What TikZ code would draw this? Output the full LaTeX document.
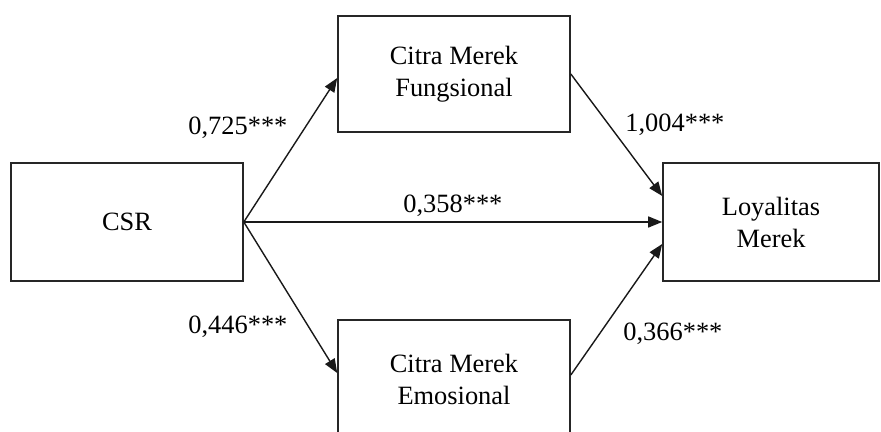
\documentclass[tikz,border=0pt]{standalone}
\usepackage{fontspec}
\setmainfont{Liberation Serif}
\usepackage{tikz}
\usetikzlibrary{arrows.meta}
\tikzset{varbox/.style={draw=black!85, line width=0.8pt, fill=white, align=center, inner sep=0pt,
  font=\fontsize{13.2}{16}\selectfont}}
\tikzset{coef/.style={anchor=base west, inner sep=0pt, font=\fontsize{13.2}{16}\selectfont}}

\begin{document}
\begin{tikzpicture} [x=0.5pt, y=-0.5pt]
\useasboundingbox (0,0) rectangle (881,432);
\clip (0,0) rectangle (881,432);
\fill[white] (0,0) rectangle (881,432);
\node[varbox, minimum width=116pt, minimum height=59pt] (csr) at (127,222) {CSR};
\node[varbox, minimum width=116pt, minimum height=58pt] (fung) at (454,74) {Citra Merek\\Fungsional};
\node[varbox, minimum width=116pt, minimum height=59pt] (emos) at (454,379) {Citra Merek\\Emosional};
\node[varbox, minimum width=108pt, minimum height=59pt] (loy) at (771,222) {Loyalitas\\Merek};
\draw[black!90, line width=0.7pt, ->, >={Triangle[length=7pt,width=5.5pt]}] (csr.east) -- ([yshift=-2pt]fung.west);
\draw[black!90, line width=0.7pt, ->, >={Triangle[length=7pt,width=5.5pt]}] (csr.east) -- ([yshift=3pt]emos.west);
\draw[black!90, line width=0.7pt, ->, >={Triangle[length=7pt,width=5.5pt]}] (csr.east) -- (loy.west);
\draw[black!90, line width=0.7pt, ->, >={Triangle[length=7pt,width=5.5pt]}] (fung.east) -- ([yshift=13pt]loy.west);
\draw[black!90, line width=0.7pt, ->, >={Triangle[length=7pt,width=5.5pt]}] ([yshift=2pt]emos.east) -- ([yshift=-11pt]loy.west);
\node[coef] (cA) at (188,135) {0,725***};
\node[coef] (cB) at (188,333) {0,446***};
\node[coef] (cC) at (403,213) {0,358***};
\node[coef] (cD) at (625,132) {1,004***};
\node[coef] (cE) at (623,340) {0,366***};
\end{tikzpicture}
\end{document}
